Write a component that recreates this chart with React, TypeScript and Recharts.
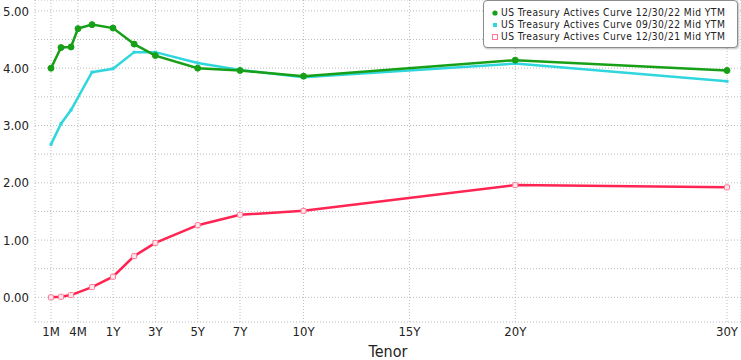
import React from 'react';
import { LineChart, Line, XAxis, YAxis, CartesianGrid } from 'recharts';

// ---- data ----
const tenors = ['1M', '2M', '3M', '4M', '6M', '1Y', '2Y', '3Y', '5Y', '7Y', '10Y', '20Y', '30Y'];
const tenorYears = [1 / 12, 2 / 12, 3 / 12, 4 / 12, 0.5, 1, 2, 3, 5, 7, 10, 20, 30];
const curve123022: (number | null)[] = [4.0, 4.36, 4.37, 4.69, 4.76, 4.7, 4.42, 4.22, 4.0, 3.96, 3.86, 4.14, 3.96];
const curve093022: (number | null)[] = [2.67, 3.03, 3.27, null, 3.93, 3.99, 4.28, 4.28, 4.09, 3.97, 3.84, 4.08, 3.77];
const curve123021: (number | null)[] = [0.0, 0.01, 0.04, null, 0.18, 0.36, 0.72, 0.95, 1.26, 1.44, 1.51, 1.96, 1.92];
const seriesNames = [
  'US Treasury Actives Curve 12/30/22 Mid YTM',
  'US Treasury Actives Curve 09/30/22 Mid YTM',
  'US Treasury Actives Curve 12/30/21 Mid YTM',
];
const xTickLabels = ['1M', '4M', '1Y', '3Y', '5Y', '7Y', '10Y', '15Y', '20Y', '30Y'];
const xTickYears = [1 / 12, 4 / 12, 1, 3, 5, 7, 10, 15, 20, 30];
const yTicks = [0, 0.5, 1, 1.5, 2, 2.5, 3, 3.5, 4, 4.5, 5];

// Bloomberg-style piecewise tenor scale (years -> axis units)
const scaleYears = [1 / 12, 0.25, 0.5, 1, 30];
const scaleUnits = [0, 20, 41, 62, 676];
const toUnits = (y: number) => {
  for (let i = 0; i < scaleYears.length - 1; i++) {
    const a = scaleYears[i], b = scaleYears[i + 1];
    if (y <= b + 1e-9) {
      return scaleUnits[i] + ((y - a) / (b - a)) * (scaleUnits[i + 1] - scaleUnits[i]);
    }
  }
  return scaleUnits[scaleUnits.length - 1];
};

const GREEN = '#17a017';
const CYAN = '#2fd6dd';
const RED = '#ff2452';
const FONT = "Tahoma, 'DejaVu Sans Condensed', 'Liberation Sans', Arial, sans-serif";

const data = tenors.map((t, i) => ({
  tenor: t,
  x: toUnits(tenorYears[i]),
  g: curve123022[i],
  c: curve093022[i],
  r: curve123021[i],
}));
const xTicks = xTickYears.map(toUnits);
const tickLabel = (v: number) => {
  const i = xTicks.findIndex((t) => Math.abs(t - v) < 1e-6);
  return i >= 0 ? xTickLabels[i] : '';
};

const GreenDot = (p: any) =>
  p.cx == null || p.cy == null ? <g key={p.index} /> : <circle key={p.index} cx={p.cx} cy={p.cy} r={3} fill={GREEN} stroke={GREEN} />;
const CyanDot = (p: any) =>
  p.cx == null || p.cy == null ? <g key={p.index} /> : <rect key={p.index} x={p.cx - 1.5} y={p.cy - 1.5} width={3} height={3} fill={CYAN} />;
const RedDot = (p: any) =>
  p.cx == null || p.cy == null ? (
    <g key={p.index} />
  ) : (
    <rect key={p.index} x={p.cx - 2.5} y={p.cy - 2.5} width={5} height={5} rx={1} fill="#ffe6ec" stroke="#ff7895" strokeWidth={1} />
  );

const legendMarkers = [
  <svg width={6} height={6} style={{ display: 'block' }}><circle cx={3} cy={3} r={2.6} fill={GREEN} /></svg>,
  <svg width={6} height={6} style={{ display: 'block' }}><rect x={1} y={1} width={4} height={4} fill={CYAN} /></svg>,
  <svg width={6} height={6} style={{ display: 'block' }}><rect x={0.5} y={0.5} width={5} height={5} fill="#fff" stroke="#ff7895" strokeWidth={1} /></svg>,
];

const LegendBox = () => (
  <div
    style={{
      position: 'absolute',
      left: 483,
      top: 0,
      width: 255,
      height: 48,
      boxSizing: 'border-box',
      border: '1px solid #8c8c8c',
      borderRadius: 4,
      background: '#fff',
      boxShadow: '1px 1px 2px rgba(0,0,0,0.25)',
      padding: '6px 0 0 8px',
      fontFamily: FONT,
      fontSize: 10.2,
      letterSpacing: 0.45,
      color: '#222',
      lineHeight: '12px',
      whiteSpace: 'nowrap',
    }}
  >
    {seriesNames.map((n, i) => (
      <div key={n} style={{ display: 'flex', alignItems: 'center', height: 12 }}>
        <div style={{ width: 6, marginRight: 3 }}>{legendMarkers[i]}</div>
        <span>{n}</span>
      </div>
    ))}
  </div>
);

export default function App() {
  return (
    <div style={{ position: 'absolute', left: 0, top: 0, width: 741, height: 360, background: '#fff', fontFamily: FONT }}>
      <LineChart width={741} height={360} data={data} margin={{ top: 0, right: 0, bottom: 0, left: 0 }} style={{ fontFamily: FONT }}>
        <CartesianGrid stroke="#bcbcbc" strokeDasharray="1 2" />
        <XAxis
          dataKey="x"
          type="number"
          domain={[-16, 690]}
          allowDataOverflow
          ticks={xTicks}
          interval={0}
          tickFormatter={tickLabel}
          axisLine={false}
          tickLine={false}
          tickSize={0}
          tickMargin={5}
          height={38}
          tick={{ fill: '#222', fontSize: 13 }}
          label={{ value: 'Tenor', position: 'insideBottom', offset: 3, fill: '#222', fontSize: 16 }}
        />
        <YAxis
          type="number"
          domain={[-0.43, 5.19]}
          allowDataOverflow
          ticks={yTicks}
          interval={0}
          tickFormatter={(v: number) => (Number.isInteger(v) ? v.toFixed(2) : '')}
          axisLine={false}
          tickLine={false}
          tickSize={0}
          tickMargin={6}
          width={35}
          tick={{ fill: '#222', fontSize: 13 }}
        />
        <Line dataKey="r" name={seriesNames[2]} stroke={RED} strokeWidth={2.5} dot={RedDot} activeDot={false} connectNulls isAnimationActive={false} />
        <Line dataKey="c" name={seriesNames[1]} stroke={CYAN} strokeWidth={2.5} dot={CyanDot} activeDot={false} connectNulls isAnimationActive={false} />
        <Line dataKey="g" name={seriesNames[0]} stroke={GREEN} strokeWidth={2.5} dot={GreenDot} activeDot={false} connectNulls isAnimationActive={false} />
      </LineChart>
      <LegendBox />
    </div>
  );
}
